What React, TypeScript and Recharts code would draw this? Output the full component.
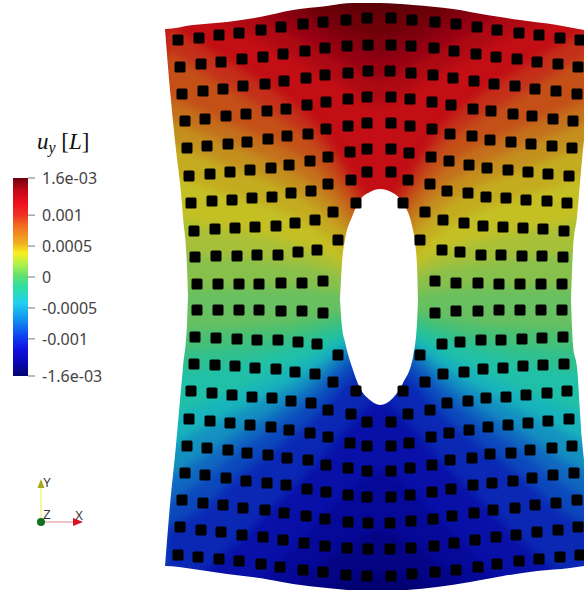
import { Area, Bar, BarChart, ComposedChart, ReferenceDot, ReferenceLine, Scatter, XAxis, YAxis } from "recharts"

// marker rows, top of the plate to the bottom, [x, y] in picture units
const row01 = [[178,40],[199,38],[219,35],[239,33],[261,30],[281,27],[303,24],[323,22],[346,20],[367,18],[391,18],[412,20],[435,22],[456,24],[477,27],[497,30],[519,33],[539,35],[560,38],[580,40]]
const row02 = [[180,67],[201,64],[221,62],[242,59],[263,57],[283,54],[305,51],[325,48],[347,46],[368,45],[391,45],[411,46],[434,48],[454,51],[476,54],[496,57],[517,59],[537,62],[558,64],[578,67]]
const row03 = [[182,94],[203,91],[223,89],[243,86],[265,84],[284,81],[306,78],[325,75],[348,73],[368,71],[390,71],[411,73],[433,75],[453,78],[474,81],[494,84],[515,86],[535,89],[556,91],[577,94]]
const row04 = [[185,121],[205,119],[226,116],[246,114],[267,111],[286,109],[307,105],[326,102],[348,99],[367,97],[391,97],[410,99],[432,102],[451,105],[473,109],[491,111],[513,114],[532,116],[553,119],[573,121]]
const row05 = [[187,148],[207,146],[228,144],[247,142],[268,139],[287,136],[308,134],[326,129],[348,126],[367,123],[391,123],[410,126],[432,129],[450,134],[472,136],[490,140],[511,142],[531,144],[552,146],[572,148]]
const row06 = [[189,176],[210,174],[230,172],[250,170],[271,168],[289,165],[310,161],[328,157],[350,152],[367,149],[391,149],[409,153],[431,157],[449,161],[469,165],[487,168],[508,170],[528,172],[548,174],[569,176]]
const row07 = [[191,203],[212,201],[232,200],[252,198],[272,197],[291,193],[311,191],[328,184],[351,180],[367,172],[391,172],[408,180],[430,184],[447,191],[468,193],[486,197],[506,198],[526,200],[547,201],[567,203]]
const row08 = [[194,231],[215,229],[235,228],[255,227],[276,226],[295,223],[315,220],[333,212],[356,203],[403,203],[425,212],[443,220],[464,223],[483,226],[503,227],[523,228],[543,229],[564,231]]
const row09 = [[195,257],[216,256],[237,256],[257,255],[278,255],[298,252],[317,250],[338,240],[420,240],[442,250],[460,252],[481,255],[501,255],[522,256],[542,256],[563,257]]
const row10 = [[197,284],[218,284],[239,284],[259,284],[281,283],[302,283],[323,281],[435,281],[456,283],[478,283],[499,284],[520,284],[541,284],[562,284]]
const row11 = [[197,310],[218,310],[239,310],[259,310],[281,311],[302,311],[323,313],[435,313],[456,311],[478,311],[499,310],[520,310],[541,310],[562,310]]
const row12 = [[195,337],[216,338],[237,339],[257,340],[278,340],[298,342],[317,344],[338,355],[420,355],[442,344],[460,342],[481,340],[501,340],[522,339],[542,338],[563,337]]
const row13 = [[194,364],[215,365],[235,366],[255,368],[276,369],[295,372],[315,374],[333,382],[356,391],[403,391],[425,382],[443,374],[464,372],[483,369],[503,368],[523,366],[543,365],[564,364]]
const row14 = [[191,391],[212,393],[232,395],[252,397],[272,398],[291,401],[311,403],[328,410],[351,414],[367,422],[391,422],[408,414],[430,410],[447,403],[468,401],[486,398],[506,397],[526,395],[547,393],[567,391]]
const row15 = [[189,419],[210,421],[230,423],[250,425],[271,427],[289,430],[310,433],[328,437],[350,443],[367,446],[391,446],[409,443],[431,437],[449,433],[469,430],[488,427],[508,425],[528,423],[548,421],[569,419]]
const row16 = [[187,446],[207,448],[228,450],[247,453],[268,455],[287,458],[308,460],[326,465],[348,468],[367,471],[391,471],[410,468],[432,465],[450,460],[472,458],[490,454],[511,453],[530,450],[552,448],[572,446]]
const row17 = [[185,473],[205,475],[226,478],[246,481],[267,483],[286,485],[307,489],[326,492],[348,495],[367,497],[391,497],[410,495],[432,492],[451,489],[473,485],[492,483],[513,481],[532,478],[553,475],[574,473]]
const row18 = [[182,500],[203,503],[223,505],[243,508],[265,510],[284,513],[306,516],[325,519],[348,522],[368,523],[390,523],[411,521],[433,519],[452,516],[474,513],[493,510],[515,508],[535,505],[556,503],[577,500]]
const row19 = [[180,527],[201,530],[221,532],[242,535],[263,537],[283,540],[304,543],[325,546],[347,548],[368,549],[390,549],[411,548],[434,546],[454,543],[475,540],[496,537],[516,535],[537,532],[558,530],[578,527]]
const row20 = [[178,555],[198,557],[219,559],[239,561],[261,564],[280,567],[303,570],[323,572],[346,575],[367,576],[391,576],[412,574],[435,572],[456,570],[478,567],[497,564],[519,561],[539,559],[560,557],[580,555]]
const markerRows = [row01,row02,row03,row04,row05,row06,row07,row08,row09,row10,row11,row12,row13,row14,row15,row16,row17,row18,row19,row20]

// the field: y where each colour begins, read at these x positions
const fieldX = [165,200,240,280,320,350,380,410,440,480,520,560,600]
const level01 = [-60,-50,-35,-15,2,10,14,10,2,-15,-35,-50,-60]
const level02 = [-60,-45,-30,-5,18,30,38,30,18,-5,-30,-45,-60]
const level03 = [-60,-40,-15,12,32,48,58,48,32,12,-15,-40,-60]
const level04 = [-50,-25,5,28,50,66,80,66,50,28,5,-25,-50]
const level05 = [-5,15,30,50,72,88,105,88,72,50,30,15,-5]
const level06 = [25,45,70,95,130,175,210,175,130,95,70,45,25]
const level07 = [50,70,95,118,148,190,230,190,148,118,95,70,50]
const level08 = [95,112,128,145,170,205,245,205,170,145,128,112,95]
const level09 = [118,132,148,165,190,222,260,222,190,165,148,132,118]
const level10 = [142,155,170,185,210,238,270,238,210,185,170,155,142]
const level11 = [172,185,198,210,232,255,280,255,232,210,198,185,172]
const level12 = [215,225,232,240,253,270,290,270,253,240,232,225,215]
const level13 = [250,255,258,262,268,280,296,280,268,262,258,255,250]
const level14 = [288,288,288,288,290,295,303,295,290,288,288,288,288]
const level15 = [333,330,328,325,318,312,310,312,318,325,328,330,333]
const level16 = [352,350,346,340,330,320,316,320,330,340,346,350,352]
const level17 = [372,370,362,352,340,330,322,330,340,352,362,370,372]
const level18 = [420,405,390,372,352,338,330,338,352,372,390,405,420]
const level19 = [450,430,410,390,365,345,335,345,365,390,410,430,450]
const level20 = [480,458,432,408,378,352,340,352,378,408,432,458,480]
const level21 = [505,482,450,423,392,362,345,362,392,423,450,482,505]
const level22 = [530,510,475,445,412,378,352,378,412,445,475,510,530]
const level23 = [600,575,540,500,460,425,400,425,460,500,540,575,600]
const level24 = [640,620,600,560,520,490,470,490,520,560,600,620,640]
const level25 = [680,660,640,600,565,545,530,545,565,600,640,660,680]
const level26 = [700,690,670,640,600,582,575,582,600,640,670,690,700]
const fieldLevels = [level01,level02,level03,level04,level05,level06,level07,level08,level09,level10,level11,level12,level13,level14,level15,level16,level17,level18,level19,level20,level21,level22,level23,level24,level25,level26]
const baseColor = "#5c0008"
const levelColors = ["#6e0009","#820010","#980012","#ae0a14","#c20e14","#c4301a","#c45018","#c4701c","#c4901e","#c4ac20","#c4c024","#a8c038","#88c04c","#68c060","#48c074","#30c090","#20c0a8","#18b4bc","#1490c0","#1068c0","#0c48bc","#0a28b4","#0810a8","#060898","#040484","#020070"]

// plate outline and hole
const topEdgeX = [0,165,193,227,260,293,327,353,380,413,453,487,520,557,584]
const topEdgeY = [29,29,25,22,17,10,6,3,3,5,9,15,20,25,30]
const bottomEdgeX = [0,165,193,227,260,293,327,347,380,407,437,470,503,537,570,584]
const bottomEdgeY = [566,566,569,574,578,584,588,590,592,590,587,582,576,571,568,566]
const outerLeftX = [150,165]
const outerLeftUp = [0,0]
const outerLeftDown = [590,590]
const leftEdgeX = [165,170,176,180,183,187,188]
const leftEdgeUp = [29,90,150,183,217,267,296]
const leftEdgeDown = [566,505,445,400,367,325,296]
const rightEdgeX = [571,573,577,582,584]
const rightEdgeUp = [300,250,217,160,140]
const rightEdgeDown = [300,345,367,440,460]
const holeX = [340,342,345,352,360,370,380,393,403,413,417,418]
const holeUp = [300,263,240,217,200,192,189,193,203,230,265,300]
const holeDown = [300,327,342,367,388,400,405,398,383,357,323,300]

// colour bar
const barTicks = [-0.0016,-0.001,-0.0005,0,0.0005,0.001,0.0016]
const barLabels = ["-1.6e-03","-0.001","-0.0005","0","0.0005","0.001","1.6e-03"]
const barRange = [{ name: "uy", range: [-0.0016, 0.0016] }]
const barStops = [[0,"#6e0010"],[0.06,"#c00818"],[0.127,"#f01020"],[0.186,"#f03020"],[0.245,"#f07020"],[0.33,"#f0b020"],[0.38,"#f8f020"],[0.447,"#a0f050"],[0.494,"#60e070"],[0.548,"#30e0a0"],[0.632,"#20d0f0"],[0.717,"#1090f0"],[0.8,"#1040f0"],[0.868,"#1010e0"],[0.936,"#0808b0"],[1,"#040470"]]

const band = (xs: number[], lo: number[], hi: number[]) => xs.map((x, i) => ({ x, band: [lo[i], hi[i]] }))
const fieldBands = fieldLevels.map((level) => band(fieldX, level, fieldX.map(() => 700)))
const markers = markerRows.flat().map(([x, y]) => ({ x, y }))
const triadOrigin = [{ x: 41, y: 522 }]
const triadY = [{ x: 41, y: 484 }]
const triadX = [{ x: 78, y: 522 }]

const MarkerShape = (p: any) => <rect x={p.cx - 5.5} y={p.cy - 5.5} width={11} height={11} rx={1.5} fill="#000" />
const ConeY = (p: any) => <path d={`M${p.cx} ${p.cy - 5}L${p.cx + 3.5} ${p.cy + 4}L${p.cx - 3.5} ${p.cy + 4}Z`} fill="#a8a820" />
const ConeX = (p: any) => <path d={`M${p.cx + 5} ${p.cy}L${p.cx - 5} ${p.cy + 4}L${p.cx - 5} ${p.cy - 4}Z`} fill="#d81020" />
const Ball = (p: any) => <circle cx={p.cx} cy={p.cy} r={4} fill="#107020" />

const triadText = (value: string) => ({ value, position: "center" as const, fontSize: 12, fill: "#333", fontFamily: "Liberation Sans" })

export default function App() {
  return (
    <div style={{ position: "absolute", left: 0, top: 0, width: 584, height: 590, overflow: "hidden", background: "#fff" }}>
      <ComposedChart width={584} height={590} margin={{ top: 0, right: 0, bottom: 0, left: 0 }}>
        <XAxis type="number" dataKey="x" domain={[0, 584]} allowDataOverflow hide />
        <YAxis type="number" dataKey="y" domain={[0, 590]} reversed allowDataOverflow hide />
        <Area data={band(fieldX, fieldX.map(() => -100), fieldX.map(() => 700))} dataKey="band" type="linear" fill={baseColor} fillOpacity={1} stroke="none" dot={false} isAnimationActive={false} />
        {fieldBands.map((rows, i) => (
          <Area key={i} data={rows} dataKey="band" type="monotone" fill={levelColors[i]} fillOpacity={1} stroke="none" dot={false} style={{ filter: "blur(5px)" }} isAnimationActive={false} />
        ))}
        <Area data={band(topEdgeX, topEdgeX.map(() => 0), topEdgeY)} dataKey="band" type="monotone" fill="#fff" fillOpacity={1} stroke="none" dot={false} isAnimationActive={false} />
        <Area data={band(bottomEdgeX, bottomEdgeY, bottomEdgeX.map(() => 590))} dataKey="band" type="monotone" fill="#fff" fillOpacity={1} stroke="none" dot={false} isAnimationActive={false} />
        <Area data={band(outerLeftX, outerLeftUp, outerLeftDown)} dataKey="band" type="linear" fill="#fff" fillOpacity={1} stroke="none" dot={false} isAnimationActive={false} />
        <Area data={band(leftEdgeX, leftEdgeUp, leftEdgeDown)} dataKey="band" type="monotone" fill="#fff" fillOpacity={1} stroke="none" dot={false} isAnimationActive={false} />
        <Area data={band(rightEdgeX, rightEdgeUp, rightEdgeDown)} dataKey="band" type="monotone" fill="#fff" fillOpacity={1} stroke="none" dot={false} isAnimationActive={false} />
        <Area data={band(holeX, holeUp, holeDown)} dataKey="band" type="monotone" fill="#fff" fillOpacity={1} stroke="none" dot={false} isAnimationActive={false} />
        <Scatter data={markers} shape={MarkerShape} isAnimationActive={false} />
        <ReferenceLine segment={[triadOrigin[0], triadY[0]]} stroke="#f0f070" strokeWidth={1.2} />
        <ReferenceLine segment={[triadOrigin[0], triadX[0]]} stroke="#e08a90" strokeWidth={1.2} />
        <Scatter data={triadY} shape={ConeY} isAnimationActive={false} />
        <Scatter data={triadX} shape={ConeX} isAnimationActive={false} />
        <Scatter data={triadOrigin} shape={Ball} isAnimationActive={false} />
        <ReferenceDot x={47} y={483} r={0} stroke="none" label={triadText("Y")} />
        <ReferenceDot x={79} y={516} r={0} stroke="none" label={triadText("X")} />
        <ReferenceDot x={47} y={515} r={0} stroke="none" label={triadText("Z")} />
      </ComposedChart>

      <div style={{ position: "absolute", left: 13, top: 168, width: 100 }}>
        <BarChart width={100} height={218} data={barRange} barCategoryGap={0} margin={{ top: 10, right: 0, bottom: 10, left: 0 }}>
          <defs>
            <linearGradient id="uyBar" x1="0" y1="0" x2="0" y2="1">
              {barStops.map(([offset, color]) => (
                <stop key={offset} offset={offset} stopColor={color as string} />
              ))}
            </linearGradient>
          </defs>
          <XAxis dataKey="name" hide />
          <YAxis
            orientation="right"
            type="number"
            domain={[-0.0016, 0.0016]}
            ticks={barTicks}
            interval={0}
            width={85}
            axisLine={false}
            tickSize={7}
            tickMargin={7}
            tickLine={{ stroke: "#777" }}
            tick={{ fontSize: 16, fill: "#444", fontFamily: "Noto Sans" }}
            tickFormatter={(v: number) => barLabels[barTicks.indexOf(v)]}
          />
          <Bar dataKey="range" fill="url(#uyBar)" isAnimationActive={false} />
        </BarChart>
      </div>

      <div style={{ position: "absolute", left: 37, top: 129, fontFamily: "Liberation Serif", fontSize: 23, color: "#111", whiteSpace: "nowrap" }}>
        <i>u</i>
        <i style={{ fontSize: 16, position: "relative", top: 4 }}>y</i> [<i>L</i>]
      </div>
    </div>
  )
}
